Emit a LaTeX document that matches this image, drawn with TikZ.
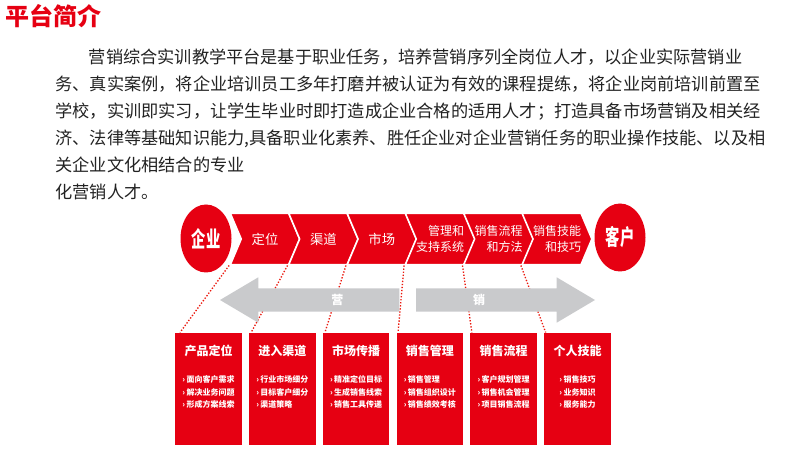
\documentclass[tikz,border=0pt]{standalone}
\usepackage{fontspec}
\setmainfont{Noto Sans CJK SC}
\usetikzlibrary{shapes.geometric,shapes.symbols}
\definecolor{brandred}{RGB}{230,0,18}
\definecolor{arrowgray}{RGB}{201,202,204}
\definecolor{bodytext}{RGB}{34,34,34}

\tikzset{every picture/.style={line width=0.75pt}}
\tikzset{
  chevron/.style={signal, signal to=east, signal from=west, signal pointer angle=134, fill=brandred, draw=white, line width=1.2pt, text=white, inner sep=0pt, minimum width=52pt, minimum height=38.5pt, font=\fontsize{10pt}{12pt}\selectfont},
  twoline/.style={align=right, font=\fontsize{9pt}{12pt}\selectfont},
  endpoint/.style={ellipse, fill=brandred, text=white, inner sep=0pt, minimum width=38.25pt, minimum height=51pt},
  modbox/.style={rectangle, fill=brandred, inner sep=0pt, minimum width=50pt, minimum height=84pt},
  modtitle/.style={text=white, inner sep=0pt, font=\fontsize{9pt}{9pt}\selectfont\bfseries},
  moditems/.style={text=white, inner sep=0pt, align=left, font=\fontsize{6pt}{9.6pt}\selectfont\bfseries},
  leader/.style={draw=brandred!80!orange, line width=1pt, dash pattern=on 1pt off 1.3pt},
  bodyline/.style={anchor=west, inner sep=0pt, text=bodytext, font=\fontsize{12.9pt}{12.9pt}\selectfont}
}
\newcommand{\bigword}[1]{\scalebox{0.65}[1]{\fontsize{16.5pt}{16.5pt}\selectfont\bfseries #1}}

\begin{document}
\begin{tikzpicture}[x=0.75pt,y=0.75pt,yscale=-1,xscale=1]
\useasboundingbox (0,0) rectangle (804,449);

% Text Node
\node [anchor=west, inner sep=0pt, text=brandred, font=\fontsize{18pt}{18pt}\selectfont\bfseries] (title) at (5,16) {平台简介};
% Text Node
\node [bodyline] (line1) at (88.3,57.5) {营销综合实训教学平台是基于职业任务，培养营销序列全岗位人才，以企业实际营销业};
% Text Node
\node [bodyline] (line2) at (55,84.5) {务、真实案例，将企业培训员工多年打磨并被认证为有效的课程提练，将企业岗前培训前置至};
% Text Node
\node [bodyline] (line3) at (55,111.5) {学校，实训即实习，让学生毕业时即打造成企业合格的适用人才；打造具备市场营销及相关经};
% Text Node
\node [bodyline] (line4) at (55,138.5) {济、法律等基础知识能力,具备职业化素养、胜任企业对企业营销任务的职业操作技能、以及相};
% Text Node
\node [bodyline] (line5) at (55,165) {关企业文化相结合的专业};
% Text Node
\node [bodyline] (line6) at (55,191.5) {化营销人才。};

%Shape: Ellipse
\node [endpoint] (qiye) at (206,238.5) {\bigword{企业}};
%Shape: Ellipse
\node [endpoint] (kehu) at (620,237.5) {\bigword{客户}};

%Shape: Chevrons
\node [chevron] (dingwei) at (265,239) {定位};
\node [chevron] (qudao) at (323.4,239) {渠道};
\node [chevron] (shichang) at (381.8,239) {市场};
\node [chevron, twoline] (guanli) at (440.2,239) {管理和\\支持系统};
\node [chevron, twoline] (liucheng) at (498.6,239) {销售流程\\和方法};
\node [chevron, twoline] (jineng) at (557,239) {销售技能\\和技巧};

%Shape: Rectangles
\node [modbox] (b1) at (208.5,389) {};
\node [modbox] (b2) at (282.3,389) {};
\node [modbox] (b3) at (356.1,389) {};
\node [modbox] (b4) at (429.9,389) {};
\node [modbox] (b5) at (503.7,389) {};
\node [modbox] (b6) at (577.5,389) {};

% Text Node
\node [modtitle] (t1) at (208.5,350.7) {产品定位};
\node [moditems] (i1) at (208.5,392) {›\,面向客户需求\\›\,解决业务问题\\›\,形成方案线索};
% Text Node
\node [modtitle] (t2) at (282.3,350.7) {进入渠道};
\node [moditems] (i2) at (282.3,392) {›\,行业市场细分\\›\,目标客户细分\\›\,渠道策略};
% Text Node
\node [modtitle] (t3) at (356.1,350.7) {市场传播};
\node [moditems] (i3) at (356.1,392) {›\,精准定位目标\\›\,生成销售线索\\›\,销售工具传递};
% Text Node
\node [modtitle] (t4) at (429.9,350.7) {销售管理};
\node [moditems] (i4) at (429.9,392) {›\,销售管理\\›\,销售组织设计\\›\,销售绩效考核};
% Text Node
\node [modtitle] (t5) at (503.7,350.7) {销售流程};
\node [moditems] (i5) at (503.7,392) {›\,客户规划管理\\›\,销售机会管理\\›\,项目销售流程};
% Text Node
\node [modtitle] (t6) at (577.5,350.7) {个人技能};
\node [moditems] (i6) at (577.5,392) {›\,销售技巧\\›\,业务知识\\›\,服务能力};

%Straight Lines
\draw [leader] (dingwei.south west) -- ([xshift=4pt]b1.north west);
\draw [leader] (qudao.south west) -- ([xshift=2pt]b2.north west);
\draw [leader] (shichang.south west) -- ([xshift=2pt]b3.north west);
\draw [leader] (guanli.south west) -- ([xshift=1.5pt]b4.north west);
\draw [leader] (liucheng.south west) -- ([xshift=1.5pt]b5.north west);
\draw [leader] (jineng.south west) -- ([xshift=1.5pt]b6.north west);

%Shape: Left Arrow
\fill [arrowgray] (399.3,288.3) -- (258.3,288.3) -- (258.3,277.3) -- (220,300) -- (258.3,322.7) -- (258.3,311.7) -- (399.3,311.7) -- cycle;
%Shape: Right Arrow
\fill [arrowgray] (416,288.3) -- (556.7,288.3) -- (556.7,277.3) -- (595,300) -- (556.7,322.7) -- (556.7,311.7) -- (416,311.7) -- cycle;

% Text Node
\node [inner sep=0pt, text=white, font=\fontsize{9pt}{9pt}\selectfont\bfseries] (ying) at (337.3,299.5) {营};
% Text Node
\node [inner sep=0pt, text=white, font=\fontsize{9pt}{9pt}\selectfont\bfseries] (xiao) at (479,299.5) {销};

\end{tikzpicture}
\end{document}
